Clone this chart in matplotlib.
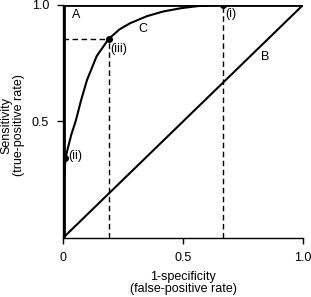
import matplotlib
matplotlib.use("Agg")
import matplotlib.pyplot as plt

plt.rcParams['font.family'] = ['Liberation Sans', 'DejaVu Sans']

# curve C
c_x = [0, 0.002, 0.005, 0.01, 0.02, 0.035, 0.054, 0.075, 0.1, 0.14, 0.19, 0.235, 0.28, 0.35, 0.417, 0.49, 0.56, 0.62, 0.667, 1.0]
c_y = [0, 0.12, 0.25, 0.34, 0.385, 0.445, 0.506, 0.59, 0.678, 0.78, 0.854, 0.895, 0.922, 0.952, 0.972, 0.986, 0.995, 0.999, 1.0, 1.0]

# line A (perfect test) and B (chance)
a_x = [0.004, 0.004, 1]
a_y = [0, 1, 1]
b_x = [0, 1]
b_y = [0, 1]

# marked points
pt_labels = ['(i)', '(ii)', '(iii)']
pt_x = [0.667, 0.01, 0.19]
pt_y = [1.0, 0.343, 0.854]

fig = plt.figure(figsize=(3.11, 2.97), dpi=100)
ax = fig.add_axes([0.2026, 0.1987, 0.7717, 0.7845])

ax.plot(a_x, a_y, color='black', lw=2.0, solid_joinstyle='miter')
ax.plot(b_x, b_y, color='black', lw=1.5)
ax.plot(c_x, c_y, color='black', lw=1.5)

# dashed guides
ax.plot([0, pt_x[2]], [pt_y[2], pt_y[2]], color='black', lw=1, ls=(0, (4, 2.5)))
ax.plot([pt_x[2], pt_x[2]], [0, pt_y[2]], color='black', lw=1, ls=(0, (4, 2.5)))
ax.plot([pt_x[0], pt_x[0]], [0, pt_y[0]], color='black', lw=1, ls=(0, (4, 2.5)))

ax.plot(pt_x, pt_y, 'o', color='black', ms=4, zorder=5)

fs = 9
ax.text(pt_x[0] + 0.01, pt_y[0] - 0.015, pt_labels[0], fontsize=fs, va='top', ha='left')
ax.text(pt_x[1] + 0.012, pt_y[1] + 0.01, pt_labels[1], fontsize=fs, va='center', ha='left')
ax.text(pt_x[2] + 0.008, pt_y[2] - 0.015, pt_labels[2], fontsize=fs, va='top', ha='left')
ax.text(0.055, 0.955, 'A', fontsize=fs, ha='center', va='center')
ax.text(0.333, 0.895, 'C', fontsize=fs, ha='center', va='center')
ax.text(0.842, 0.776, 'B', fontsize=fs, ha='center', va='center')

ax.set_xlim(0, 1)
ax.set_ylim(0, 1)
ax.set_xticks([0, 0.5, 1.0])
ax.set_xticklabels(['0', '0.5', '1.0'])
ax.set_yticks([0.5, 1.0])
ax.set_yticklabels(['0.5', '1.0'])
ax.tick_params(labelsize=fs, length=4, width=1, direction='out', pad=6)
ax.spines['top'].set_visible(False)
ax.spines['right'].set_visible(False)
ax.spines['left'].set_linewidth(1)
ax.spines['bottom'].set_linewidth(1)

# axis titles placed in figure pixels-ish
fig.text(183 / 311, 1 - 283 / 297, '1-specificity\n(false-positive rate)', fontsize=fs,
         ha='center', va='center', linespacing=1.05)
fig.text(12.5 / 311, 1 - 125 / 297, 'Sensitivity\n(true-positive rate)', fontsize=fs,
         ha='center', va='center', rotation=90, linespacing=1.05)

fig.savefig('out.png', dpi=100)
